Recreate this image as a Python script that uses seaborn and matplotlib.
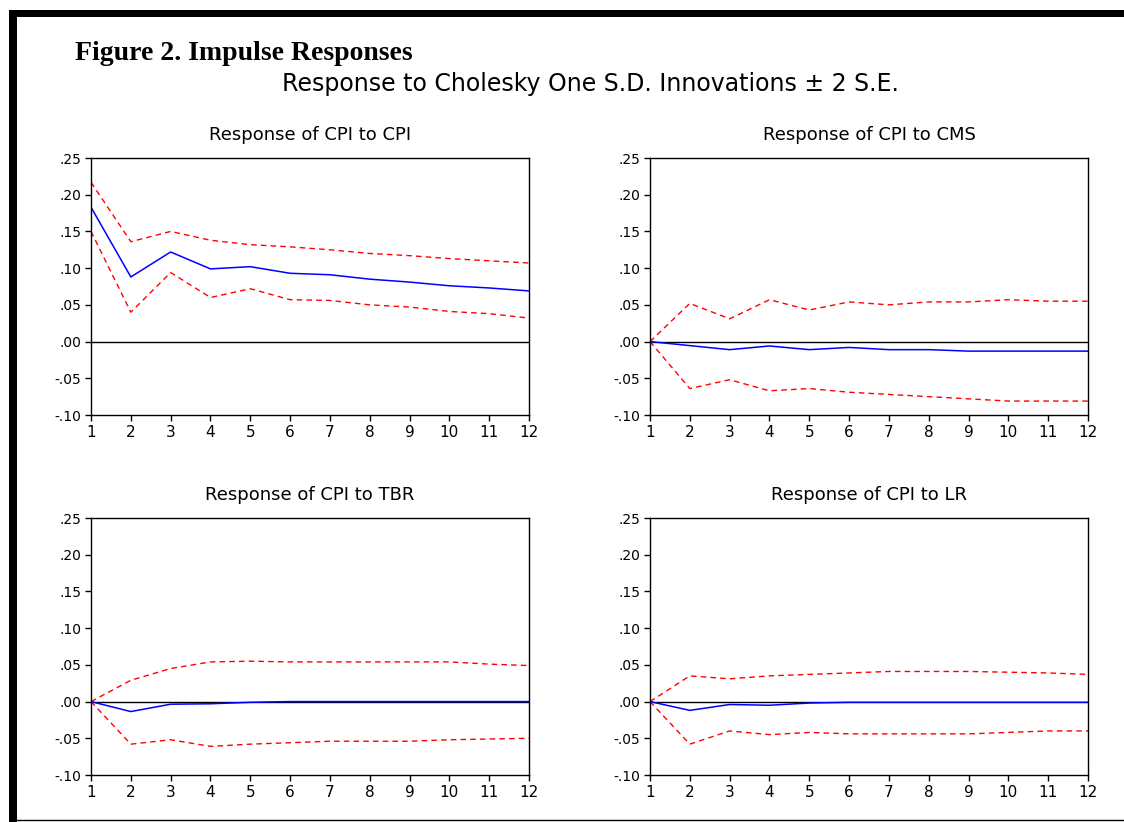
import numpy as np
import pandas as pd
import matplotlib
matplotlib.use("Agg")
import matplotlib.pyplot as plt
from matplotlib.patches import Rectangle
from matplotlib.lines import Line2D
import seaborn as sns


# Data

periods = list(range(1, 13))

cpi_cpi_mid = [0.183, 0.088, 0.122, 0.099, 0.102, 0.093, 0.091, 0.085, 0.081, 0.076, 0.073, 0.069]
cpi_cpi_up = [0.217, 0.136, 0.150, 0.138, 0.132, 0.129, 0.125, 0.120, 0.117, 0.113, 0.110, 0.107]
cpi_cpi_lo = [0.150, 0.040, 0.094, 0.060, 0.072, 0.057, 0.056, 0.050, 0.047, 0.041, 0.038, 0.032]

cpi_cms_mid = [0.0, -0.0055, -0.011, -0.006, -0.011, -0.008, -0.011, -0.011, -0.013, -0.013, -0.013, -0.013]
cpi_cms_up = [0.0, 0.052, 0.031, 0.057, 0.043, 0.054, 0.050, 0.054, 0.054, 0.057, 0.055, 0.055]
cpi_cms_lo = [0.0, -0.064, -0.052, -0.067, -0.064, -0.069, -0.072, -0.075, -0.078, -0.081, -0.081, -0.081]

cpi_tbr_mid = [0.0, -0.0136, -0.0036, -0.003, -0.001, 0.0, 0.0, 0.0, 0.0, 0.0, 0.0, 0.0]
cpi_tbr_up = [0.0, 0.029, 0.045, 0.054, 0.055, 0.054, 0.054, 0.054, 0.054, 0.054, 0.051, 0.049]
cpi_tbr_lo = [0.0, -0.058, -0.052, -0.061, -0.058, -0.056, -0.054, -0.054, -0.054, -0.052, -0.051, -0.050]

cpi_lr_mid = [0.0, -0.012, -0.004, -0.005, -0.002, -0.001, -0.001, -0.001, -0.001, -0.001, -0.001, -0.001]
cpi_lr_up = [0.0, 0.035, 0.031, 0.035, 0.037, 0.039, 0.041, 0.041, 0.041, 0.040, 0.039, 0.037]
cpi_lr_lo = [0.0, -0.058, -0.040, -0.045, -0.042, -0.044, -0.044, -0.044, -0.044, -0.042, -0.040, -0.040]

panel_titles = [
    "Response of CPI to CPI",
    "Response of CPI to CMS",
    "Response of CPI to TBR",
    "Response of CPI to LR",
]

y_ticks = [-0.10, -0.05, 0.00, 0.05, 0.10, 0.15, 0.20, 0.25]
y_tick_labels = ["-.10", "-.05", ".00", ".05", ".10", ".15", ".20", ".25"]

panels = [
    (cpi_cpi_mid, cpi_cpi_up, cpi_cpi_lo),
    (cpi_cms_mid, cpi_cms_up, cpi_cms_lo),
    (cpi_tbr_mid, cpi_tbr_up, cpi_tbr_lo),
    (cpi_lr_mid, cpi_lr_up, cpi_lr_lo),
]


# Style

sns.set_style("ticks")
plt.rcParams["font.family"] = ["DejaVu Sans"]
plt.rcParams["text.color"] = "black"
plt.rcParams["xtick.color"] = "black"
plt.rcParams["ytick.color"] = "black"
plt.rcParams["axes.labelcolor"] = "black"


# Figure

fig = plt.figure(figsize=(11.24, 8.22), dpi=100)

W, H = 1124, 822

# axes boxes in pixels: left, top, right, bottom
boxes = [
    (91, 158, 529, 415),
    (650, 158, 1088, 415),
    (91, 518, 529, 775),
    (650, 518, 1088, 775),
]

for (mid, up, lo), title, (l, t, r, b) in zip(panels, panel_titles, boxes):

    ax = fig.add_axes([l / W, 1 - b / H, (r - l) / W, (b - t) / H])

    ax.axhline(0, color="black", linewidth=1.0, zorder=1)

    sns.lineplot(x=periods, y=up, ax=ax, color="#ff0000",
                 linewidth=1.0, linestyle=(0, (4, 3)))
    sns.lineplot(x=periods, y=lo, ax=ax, color="#ff0000",
                 linewidth=1.0, linestyle=(0, (4, 3)))
    sns.lineplot(x=periods, y=mid, ax=ax, color="#0000ff",
                 linewidth=1.1)

    ax.set_xlim(1, 12)
    ax.set_ylim(-0.10, 0.25)

    ax.set_xticks(periods)
    ax.set_xticklabels([str(p) for p in periods], fontsize=11)

    ax.set_yticks(y_ticks)
    ax.set_yticklabels(y_tick_labels, fontsize=10)

    ax.tick_params(axis="both", direction="out", length=4, width=1,
                   color="black", pad=3)

    for side in ["left", "right", "top", "bottom"]:
        ax.spines[side].set_visible(True)
        ax.spines[side].set_color("black")
        ax.spines[side].set_linewidth(1.0)

    ax.set_xlabel("")
    ax.set_ylabel("")

    ax.set_title(title, fontsize=13, pad=13, color="black")


# Headings

fig.text(75 / W, 1 - 53 / H, "Figure 2. Impulse Responses",
         family=["Liberation Serif", "DejaVu Serif"], fontsize=20,
         fontweight="bold", va="center", ha="left", color="black")

fig.text(590 / W, 1 - 84 / H,
         "Response to Cholesky One S.D. Innovations \u00b1 2 S.E.",
         fontsize=17, va="center", ha="center", color="black")


# Outer frame

fig.add_artist(Rectangle((9 / W, 1 - 17 / H), 1 - 9 / W, 7 / H,
                         transform=fig.transFigure, color="black", lw=0))
fig.add_artist(Rectangle((9 / W, 0), 8 / W, 1 - 10 / H,
                         transform=fig.transFigure, color="black", lw=0))
fig.add_artist(Line2D([9 / W, 1], [1 - 820 / H, 1 - 820 / H],
                      transform=fig.transFigure, color="black", lw=1))

fig.savefig("out.png", dpi=100)
